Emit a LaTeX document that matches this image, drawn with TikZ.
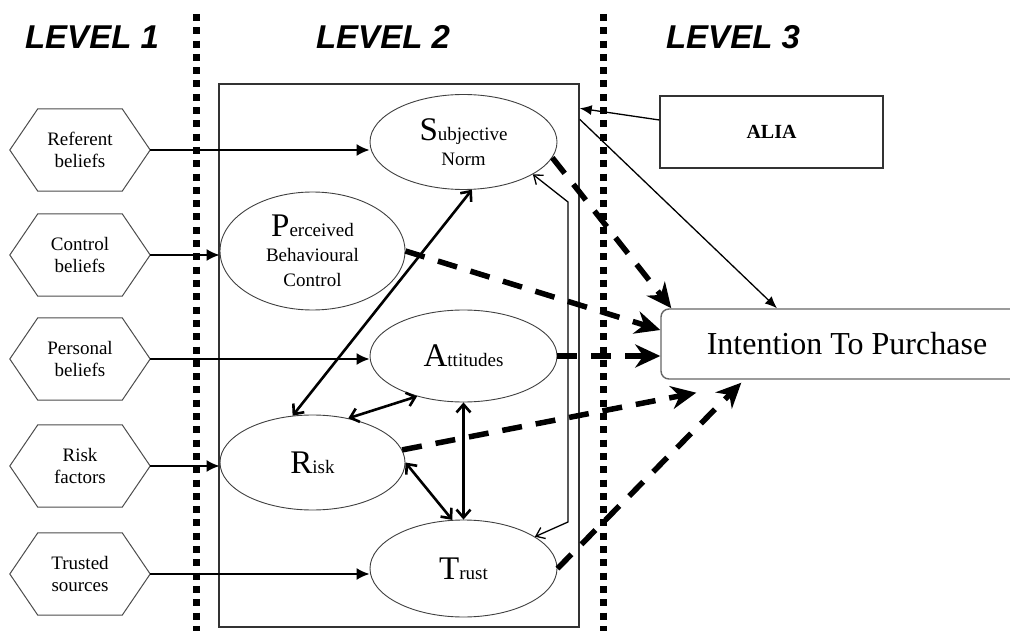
\documentclass[tikz,border=0pt]{standalone}
\usepackage{fontspec}
\setmainfont{Liberation Serif}
\newfontfamily\levelfont{Liberation Sans}
\usetikzlibrary{shapes.geometric,arrows.meta,calc}
\newcommand\drawhex[1]{\draw[hexline] (#1.west) -- ([xshift=28pt]#1.north west) -- ([xshift=-28pt]#1.north east) -- (#1.east) -- ([xshift=-28pt]#1.south east) -- ([xshift=28pt]#1.south west) -- cycle;}
\newcommand\bigini[1]{{\fontsize{33}{33}\selectfont #1}}
\begin{document}
\begin{tikzpicture}[x=1pt,y=-1pt,
  hexnode/.style={minimum width=140pt,minimum height=82pt,inner sep=0pt,align=center,font=\fontsize{19}{22}\selectfont},
  hexline/.style={draw=black!70,line width=1pt},
  ell/.style={ellipse,draw=black!75,line width=0.9pt,fill=white,inner sep=0pt,minimum width=187pt,minimum height=95pt,align=center,font=\fontsize{19}{25}\selectfont},
  lvl/.style={font=\levelfont\bfseries\itshape\fontsize{33}{33}\selectfont},
  sep/.style={line width=7pt,dash pattern=on 7pt off 6.3pt},
  inarrow/.style={line width=1.8pt,-{Latex[length=13pt,width=12pt]}},
  dbl/.style={line width=2.6pt,{Straight Barb[length=8pt,width=14pt]}-{Straight Barb[length=8pt,width=14pt]}},
  thinline/.style={line width=1.3pt},
  dsh/.style={line width=5.5pt,dash pattern=on 20pt off 14pt,-{Stealth[length=25pt,width=23pt,inset=8pt]}},
]
\useasboundingbox (0,0) rectangle (1010,631);
\clip (0,0) rectangle (1010,631);

% level labels
\node[lvl] (l1) at (92,37) {LEVEL 1};
\node[lvl] (l2) at (383,37) {LEVEL 2};
\node[lvl] (l3) at (733,37) {LEVEL 3};

% separators
\coordinate (d1t) at (196,14);
\coordinate (d1b) at (196,631);
\coordinate (d2t) at (603,14);
\coordinate (d2b) at (603,631);
\draw[sep] (d1t) -- (d1b);
\draw[sep] (d2t) -- (d2b);

% frame
\node[draw=black!80,line width=1.4pt,minimum width=360pt,minimum height=543pt,inner sep=0pt] (frame) at (399,355.5) {};

% hexagons
\node[hexnode] (refb) at (80,150) {Referent\\beliefs};
\node[hexnode] (ctrl) at (80,255) {Control\\beliefs};
\node[hexnode] (pers) at (80,359) {Personal\\beliefs};
\node[hexnode] (rfac) at (80,466) {Risk\\factors};
\node[hexnode] (tsrc) at (80,574) {Trusted\\sources};
\drawhex{refb}
\drawhex{ctrl}
\drawhex{pers}
\drawhex{rfac}
\drawhex{tsrc}

% ellipses
\node[ell] (sn) at (463.5,142) {\bigini{S}ubjective\\Norm};
\node[ell,minimum width=185pt,minimum height=118pt] (pbc) at (312.5,251) {\bigini{P}erceived\\Behavioural\\Control};
\node[ell,minimum height=92pt] (att) at (463.5,356) {\bigini{A}ttitudes};
\node[ell,minimum width=185pt] (risk) at (312.5,462.5) {\bigini{R}isk};
\node[ell,minimum height=97pt] (trust) at (463.5,568.5) {\bigini{T}rust};

% level 3 boxes
\node[draw=black!80,line width=1.2pt,minimum width=223pt,minimum height=72pt,font=\bfseries\fontsize{20}{22}\selectfont] (alia) at (771.5,132) {ALIA};
\node[draw=black!60,line width=1.4pt,rounded corners=8pt,minimum width=372pt,minimum height=70pt,font=\fontsize{32}{34}\selectfont] (intent) at (847,344) {Intention To Purchase};

% level 1 -> level 2
\draw[inarrow] (refb.east) -- (refb.east -| sn.west);
\draw[inarrow] (ctrl.east) -- (ctrl.east -| pbc.west);
\draw[inarrow] (pers.east) -- (pers.east -| att.west);
\draw[inarrow] (rfac.east) -- (rfac.east -| risk.west);
\draw[inarrow] (tsrc.east) -- (tsrc.east -| trust.west);

% inner relations
\draw[dbl] (risk.113) -- (sn.-80);
\draw[dbl] (risk.51) -- (att.221);
\draw[dbl] (att.south) -- (trust.north);
\draw[dbl] (risk.east) -- (trust.103);
\coordinate (bt) at (568,202);
\coordinate (bb) at (568,522);
\draw[thinline,{Straight Barb[length=8pt,width=12pt]}-{Straight Barb[length=8pt,width=12pt]}] (sn.-25) -- (bt) -- (bb) -- (trust.24);

% ALIA
\draw[thinline,-{Latex[length=12pt,width=10pt]}] ([yshift=12pt]alia.west) -- ([yshift=-25pt]frame.north east);
\draw[thinline,-{Latex[length=12pt,width=10pt]}] ([yshift=-36pt]frame.north east) -- ([xshift=-70pt]intent.north);

% dashed to intention
\draw[dsh] (sn.-10) -- ([xshift=11pt]intent.north west);
\draw[dsh] (pbc.east) -- ([yshift=14pt]intent.west);
\draw[dsh] (att.east) -- (att.east -| intent.west);
\draw[dsh] (risk.8) -- ([xshift=36pt,yshift=-13pt]intent.south west);
\draw[dsh] (trust.east) -- ([xshift=81pt,yshift=-3pt]intent.south west);
\end{tikzpicture}
\end{document}
